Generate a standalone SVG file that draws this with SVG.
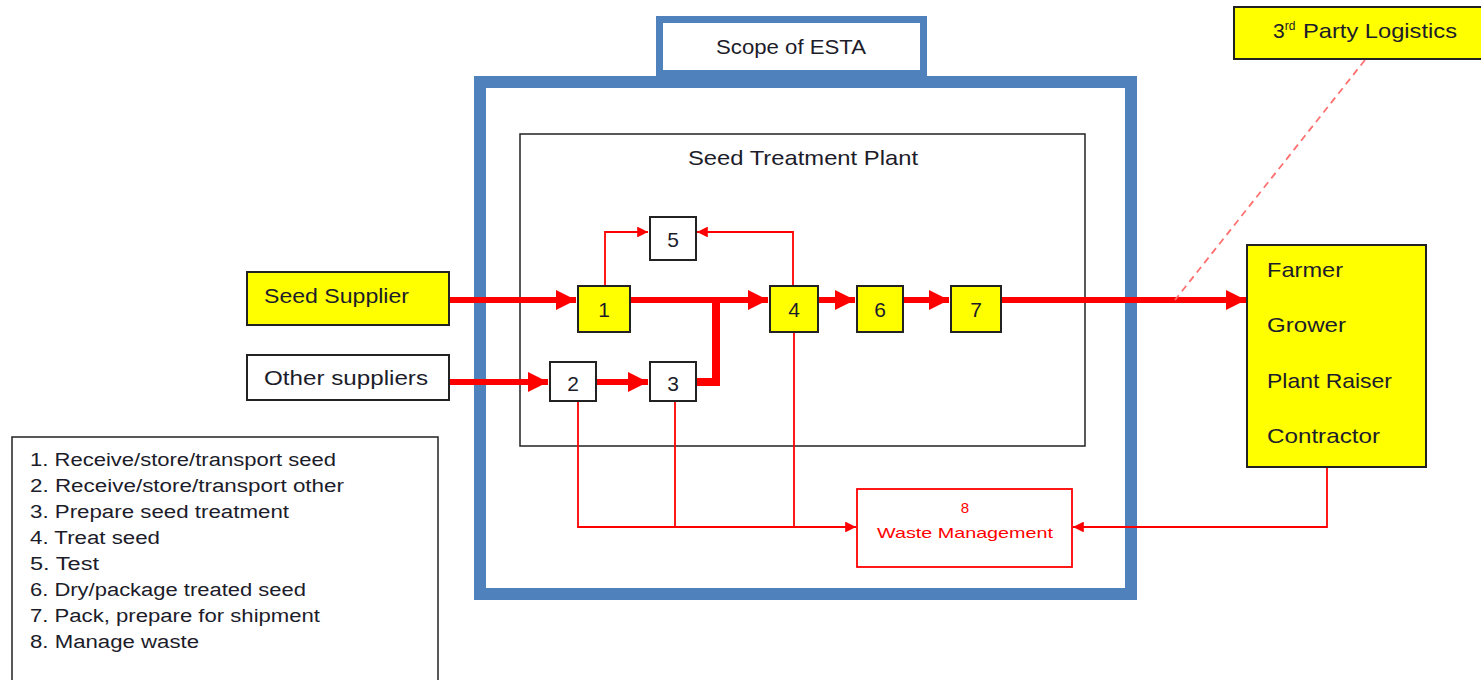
<svg xmlns="http://www.w3.org/2000/svg" width="1481" height="680" viewBox="0 0 1481 680">
<defs>
<style>
.t{font-family:"Liberation Sans",Arial,sans-serif;fill:#1c1c2a}
.big{font-size:21px}
.leg{font-size:18px}
.box{stroke:#222;stroke-width:2}
.y{fill:#ffff00}
.w{fill:#fff}
.thick{stroke:#ff0000;stroke-width:6;fill:none}
.thin{stroke:#ff0000;stroke-width:1.8;fill:none}
.num{font-size:21px;text-anchor:middle}
.red{font-family:"Liberation Sans",Arial,sans-serif;font-size:15px;fill:#ff0000;text-anchor:middle}
</style>
<marker id="ah" viewBox="0 0 10 10" refX="10" refY="5" markerWidth="3.4" markerHeight="3.4" orient="auto" markerUnits="strokeWidth">
<path d="M0,0 L10,5 L0,10 z" fill="#ff0000"/>
</marker>
<marker id="as" viewBox="0 0 10 10" refX="10" refY="5" markerWidth="6.5" markerHeight="6" orient="auto" markerUnits="strokeWidth">
<path d="M0,0 L10,5 L0,10 z" fill="#ff0000"/>
</marker>
</defs>
<rect width="1481" height="680" fill="#fff"/>

<g id="scope">
<rect x="480" y="82" width="651" height="512" fill="none" stroke="#4f81bd" stroke-width="12"/>
<rect x="659.5" y="19.5" width="264" height="54" fill="#fff" stroke="#4f81bd" stroke-width="7"/>
<text class="t big" x="716" y="54" textLength="150" lengthAdjust="spacingAndGlyphs">Scope of ESTA</text>
</g>

<g id="plant">
<rect x="520" y="134" width="565" height="312" fill="none" stroke="#222" stroke-width="1.5"/>
<text class="t big" x="688" y="165" textLength="230" lengthAdjust="spacingAndGlyphs">Seed Treatment Plant</text>
</g>

<g id="connectors">
<path class="thick" d="M449,300 H576" marker-end="url(#ah)"/>
<path class="thick" d="M631,300 H768" marker-end="url(#ah)"/>
<path class="thick" d="M449,382 H548" marker-end="url(#ah)"/>
<path class="thick" d="M596,382 H648" marker-end="url(#ah)"/>
<path d="M696,382 H716 V300" stroke="#ff0000" stroke-width="8" fill="none"/>
<path class="thick" d="M818,300 H855" marker-end="url(#ah)"/>
<path class="thick" d="M903,300 H949" marker-end="url(#ah)"/>
<path class="thick" d="M1001,300 H1246" marker-end="url(#ah)"/>
<path class="thin" d="M605,286 V232 H648" marker-end="url(#as)"/>
<path class="thin" d="M793,286 V232 H697" marker-end="url(#as)"/>
<path class="thin" d="M578,401 V527 H856" marker-end="url(#as)"/>
<path class="thin" d="M675,401 V527"/>
<path class="thin" d="M794,332 V527"/>
<path class="thin" d="M1327,467 V527 H1073" marker-end="url(#as)"/>
<path d="M1365,60 L1175,300" stroke="#ff7070" stroke-width="1.8" stroke-dasharray="7,5" fill="none"/>
</g>

<g id="seed-supplier">
<rect class="box y" x="247" y="272" width="202" height="53"/>
<text class="t big" x="264" y="303" textLength="145" lengthAdjust="spacingAndGlyphs">Seed Supplier</text>
</g>
<g id="other-suppliers">
<rect class="box w" x="247" y="355" width="202" height="45"/>
<text class="t big" x="264" y="385" textLength="164" lengthAdjust="spacingAndGlyphs">Other suppliers</text>
</g>

<g id="n1"><rect class="box y" x="578" y="286" width="52" height="46"/><text class="t num" x="604" y="317">1</text></g>
<g id="n2"><rect class="box w" x="550" y="362" width="46" height="39"/><text class="t num" x="573" y="391">2</text></g>
<g id="n3"><rect class="box w" x="650" y="362" width="46" height="39"/><text class="t num" x="673" y="391">3</text></g>
<g id="n4"><rect class="box y" x="770" y="286" width="48" height="46"/><text class="t num" x="794" y="317">4</text></g>
<g id="n5"><rect class="box w" x="650" y="217" width="46" height="43"/><text class="t num" x="673" y="247">5</text></g>
<g id="n6"><rect class="box y" x="857" y="286" width="46" height="46"/><text class="t num" x="880" y="317">6</text></g>
<g id="n7"><rect class="box y" x="951" y="286" width="50" height="46"/><text class="t num" x="976" y="317">7</text></g>

<g id="customers">
<rect class="box y" x="1247" y="245" width="179" height="222"/>
<text class="t big" x="1267" y="277" textLength="76" lengthAdjust="spacingAndGlyphs">Farmer</text>
<text class="t big" x="1267" y="332" textLength="79" lengthAdjust="spacingAndGlyphs">Grower</text>
<text class="t big" x="1267" y="388" textLength="125" lengthAdjust="spacingAndGlyphs">Plant Raiser</text>
<text class="t big" x="1267" y="443" textLength="113" lengthAdjust="spacingAndGlyphs">Contractor</text>
</g>

<g id="logistics">
<rect class="box y" x="1234" y="7" width="255" height="52"/>
<text class="t big" x="1273" y="38">3<tspan font-size="12" dy="-8">rd</tspan><tspan dy="8" x="1303" textLength="154" lengthAdjust="spacingAndGlyphs">Party Logistics</tspan></text>
</g>

<g id="waste">
<rect x="857" y="489" width="215" height="78" fill="#fff" stroke="#ff0000" stroke-width="1.8"/>
<text class="red" x="965" y="513">8</text>
<text class="red" x="965" y="538" textLength="176" lengthAdjust="spacingAndGlyphs">Waste Management</text>
</g>

<g id="legend">
<rect x="12" y="437" width="426" height="260" fill="#fff" stroke="#222" stroke-width="1.5"/>
<text class="t leg" x="30" y="466" textLength="306" lengthAdjust="spacingAndGlyphs">1. Receive/store/transport seed</text>
<text class="t leg" x="30" y="492" textLength="314" lengthAdjust="spacingAndGlyphs">2. Receive/store/transport other</text>
<text class="t leg" x="30" y="518" textLength="259" lengthAdjust="spacingAndGlyphs">3.  Prepare seed treatment</text>
<text class="t leg" x="30" y="544" textLength="130" lengthAdjust="spacingAndGlyphs">4.  Treat seed</text>
<text class="t leg" x="30" y="570" textLength="69" lengthAdjust="spacingAndGlyphs">5.  Test</text>
<text class="t leg" x="30" y="596" textLength="276" lengthAdjust="spacingAndGlyphs">6.  Dry/package treated seed</text>
<text class="t leg" x="30" y="622" textLength="290" lengthAdjust="spacingAndGlyphs">7.  Pack, prepare for shipment</text>
<text class="t leg" x="30" y="648" textLength="169" lengthAdjust="spacingAndGlyphs">8.  Manage waste</text>
</g>
</svg>
